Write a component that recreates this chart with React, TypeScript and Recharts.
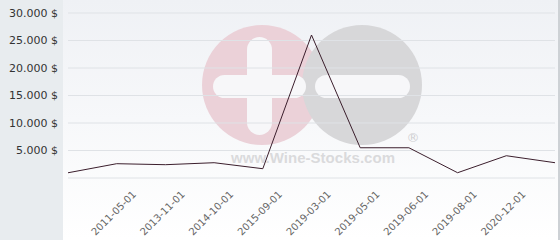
import React from "react";
import { LineChart, Line, XAxis, YAxis, CartesianGrid } from "recharts";

const dateLabels = ["", "2011-05-01", "2013-11-01", "2014-10-01", "2015-09-01", "2019-03-01", "2019-05-01", "2019-06-01", "2019-08-01", "2020-12-01", ""];
const prices = [950, 2600, 2420, 2780, 1690, 26000, 5500, 5500, 960, 4050, 2780];
const yTicks = [0, 5000, 10000, 15000, 20000, 25000, 30000];

const data = prices.map((value, i) => ({ i, value }));

const FONT = "'DejaVu Sans', Verdana, sans-serif";

const fmtPrice = (v: number) => (v === 0 ? "" : String(v).replace(/\B(?=(\d{3})+(?!\d))/g, ".") + " $");

function DateTick({ x, y, payload }: any) {
  const label = dateLabels[payload.value];
  if (!label) return null;
  const tx = x + 20;
  const ty = y + 9;
  return (
    <text x={tx} y={ty} textAnchor="end" transform={`rotate(-45 ${tx} ${ty})`} fontSize={10} fill="#666" fontFamily={FONT}>
      {label}
    </text>
  );
}

function Watermark() {
  return (
    <svg width={560} height={240} style={{ position: "absolute", left: 0, top: 0 }}>
      <circle cx={262} cy={85} r={60} fill="#ebd1d8" />
      <circle cx={362} cy={85} r={60} fill="#d7d7d9" />
      <rect x={213} y={75} width={93} height={23} rx={11.5} fill="#f7f7f9" />
      <rect x={247} y={37} width={25} height={98} rx={12.5} fill="#f7f7f9" />
      <rect x={315} y={75} width={95} height={23} rx={11.5} fill="#f7f7f9" />
      <text x={413} y={142} textAnchor="middle" fontSize={13} fill="#cfcfd2" fontFamily={FONT}>®</text>
      <text x={231} y={163} textLength={164} fontSize={15} fontWeight="bold" fill="#dadadc" fontFamily="'Liberation Sans', Arial, sans-serif">
        www.Wine-Stocks.com
      </text>
    </svg>
  );
}

export default function App() {
  return (
    <div style={{ position: "absolute", left: 0, top: 0, width: 560, height: 240, background: "#e8ecef", overflow: "hidden" }}>
      <div
        style={{
          position: "absolute",
          left: 63,
          top: 0,
          width: 495,
          height: 240,
          background: "linear-gradient(to bottom, #eff1f5 0%, #ffffff 100%)",
        }}
      />
      <div style={{ position: "absolute", left: 558, top: 0, width: 2, height: 240, background: "#cdd1d5" }} />
      <Watermark />
      <div style={{ position: "absolute", left: 0, top: 0 }}>
        <LineChart width={560} height={240} data={data} margin={{ top: 13, right: 5, bottom: 0, left: 0 }}>
          <CartesianGrid vertical={false} stroke="#dfe2e6" />
          <XAxis dataKey="i" type="category" axisLine={false} tickLine={false} interval={0} height={62} tick={<DateTick />} />
          <YAxis
            domain={[0, 30000]}
            ticks={yTicks}
            width={68}
            axisLine={false}
            tickLine={false}
            tickMargin={4}
            tickFormatter={fmtPrice}
            tick={{ fontSize: 11, fill: "#333", fontFamily: FONT }}
          />
          <Line type="linear" dataKey="value" stroke="#3b1e2c" strokeWidth={1} dot={false} activeDot={false} isAnimationActive={false} />
        </LineChart>
      </div>
    </div>
  );
}
